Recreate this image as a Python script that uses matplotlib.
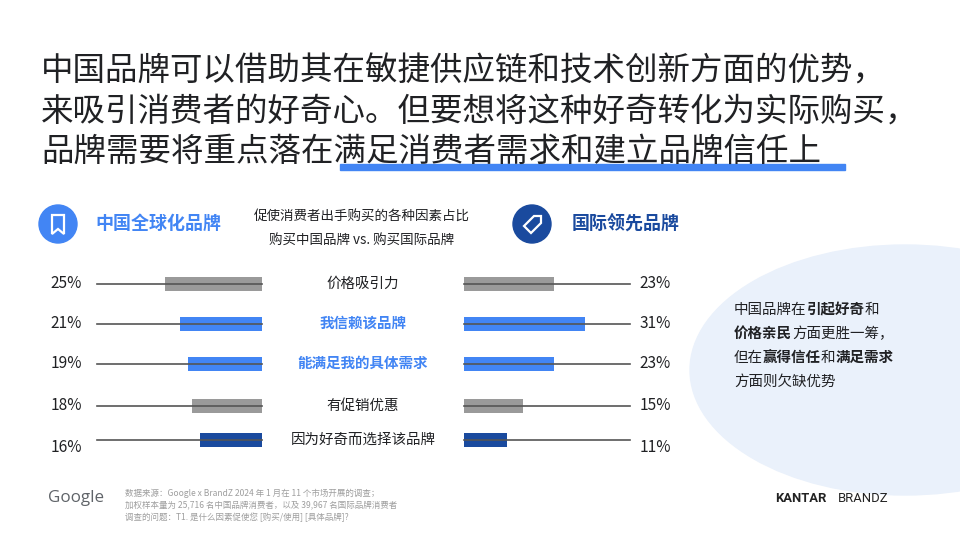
import matplotlib
matplotlib.use("Agg")
import matplotlib.pyplot as plt
from matplotlib.patches import Circle, Ellipse, Rectangle, Polygon

categories = ["价格吸引力", "我信赖该品牌", "能满足我的具体需求", "有促销优惠", "因为好奇而选择该品牌"]
china_vals = [25, 21, 19, 18, 16]
intl_vals = [23, 31, 23, 15, 11]
row_kind = ["gray", "blue", "blue", "gray", "dark"]

FONT = "Noto Sans CJK SC"
plt.rcParams["font.family"] = FONT
C = {"gray": "#9a9a9a", "blue": "#4285F4", "dark": "#1A4A9E"}

fig = plt.figure(figsize=(9.6, 5.4), dpi=100)
ax = fig.add_axes([0, 0, 1, 1])
ax.set_xlim(0, 960); ax.set_ylim(540, 0); ax.axis("off")
renderer = fig.canvas.get_renderer()

def pt(px):
    return px * 72 / 100

# title
title = ["中国品牌可以借助其在敏捷供应链和技术创新方面的优势，",
         "来吸引消费者的好奇心。但要想将这种好奇转化为实际购买，",
         "品牌需要将重点落在满足消费者需求和建立品牌信任上"]
ax.add_patch(Rectangle((340, 164), 505, 6, color="#4285F4", zorder=1))
for i, t in enumerate(title):
    ax.text(41, 72 + 40 * i, t, fontsize=pt(32.5), va="center", ha="left", color="#202124", zorder=2)

# headers
ax.add_patch(Circle((58, 224), 19, color="#4285F4"))
ax.add_patch(Polygon([(52, 215), (64, 215), (64, 234), (58, 229), (52, 234)], closed=True,
                     fill=False, edgecolor="white", lw=1.6))
ax.text(95, 224, "中国全球化品牌", fontsize=pt(18), fontweight="bold", color="#4285F4", va="center")
ax.add_patch(Circle((532, 224), 19, color=C["dark"]))
ax.add_patch(Polygon([(524, 226), (534, 216), (541, 216), (541, 223), (531, 233)], closed=True,
                     fill=False, edgecolor="white", lw=1.6))
ax.text(572, 224, "国际领先品牌", fontsize=pt(18), fontweight="bold", color=C["dark"], va="center")
ax.text(362, 217, "促使消费者出手购买的各种因素占比", fontsize=pt(13.5), ha="center", va="center", color="#202124")
ax.text(362, 240, "购买中国品牌 vs. 购买国际品牌", fontsize=pt(13.5), ha="center", va="center", color="#202124")

# bars
scale = 3.9
row_y = [284, 324, 364, 406, 440]
lab_y = [284, 324, 364, 406, 448]
for i, cat in enumerate(categories):
    y = row_y[i]
    col = C[row_kind[i]]
    ax.plot([97, 262], [y, y], color="#555555", lw=1.2, zorder=3)
    ax.plot([464, 630], [y, y], color="#555555", lw=1.2, zorder=3)
    ax.barh(y, -china_vals[i] * scale, left=262, height=14, color=col, zorder=2)
    ax.barh(y, intl_vals[i] * scale, left=464, height=14, color=col, zorder=2)
    ax.text(66, lab_y[i], f"{china_vals[i]}%", fontsize=pt(15.5), ha="center", va="center", color="#202124")
    ax.text(655, lab_y[i], f"{intl_vals[i]}%", fontsize=pt(15.5), ha="center", va="center", color="#202124")
    bold = row_kind[i] == "blue"
    ax.text(363, y, cat, fontsize=pt(14.5), ha="center", va="center",
            color="#4285F4" if bold else "#202124", fontweight="bold" if bold else "normal")

# side panel
ax.add_patch(Ellipse((905, 370), 430, 250, color="#EAF1FB", zorder=0))
side = [[("中国品牌在", False), ("引起好奇", True), ("和", False)],
        [("价格亲民", True), ("方面更胜一筹，", False)],
        [("但在", False), ("赢得信任", True), ("和", False), ("满足需求", True)],
        [("方面则欠缺优势", False)]]
inv = ax.transData.inverted()
for j, line in enumerate(side):
    x = 734
    for seg, b in line:
        t = ax.text(x, 310 + 24 * j, seg, fontsize=pt(14.5), fontweight="bold" if b else "normal",
                    va="center", ha="left", color="#202124")
        bb = t.get_window_extent(renderer)
        x = inv.transform((bb.x1, bb.y0))[0]

# footer
ax.text(48, 498, "Google", fontsize=pt(17), color="#5f6368", va="center", family="Open Sans")
notes = ["数据来源：Google x BrandZ 2024 年 1 月在 11 个市场开展的调查；",
         "加权样本量为 25,716 名中国品牌消费者，以及 39,967 名国际品牌消费者",
         "调查的问题：T1. 是什么因素促使您 [购买/使用] [具体品牌]?"]
for k, n in enumerate(notes):
    ax.text(125, 493 + 12 * k, n, fontsize=pt(8.5), color="#9e9e9e", va="center")
ax.text(775, 498, "KANTAR", fontsize=pt(13), fontweight="bold", color="#222222", va="center", family="Roboto")
ax.text(838, 498, "BRANDZ", fontsize=pt(13), color="#222222", va="center", family="Roboto")

fig.savefig("out.png", dpi=100)
